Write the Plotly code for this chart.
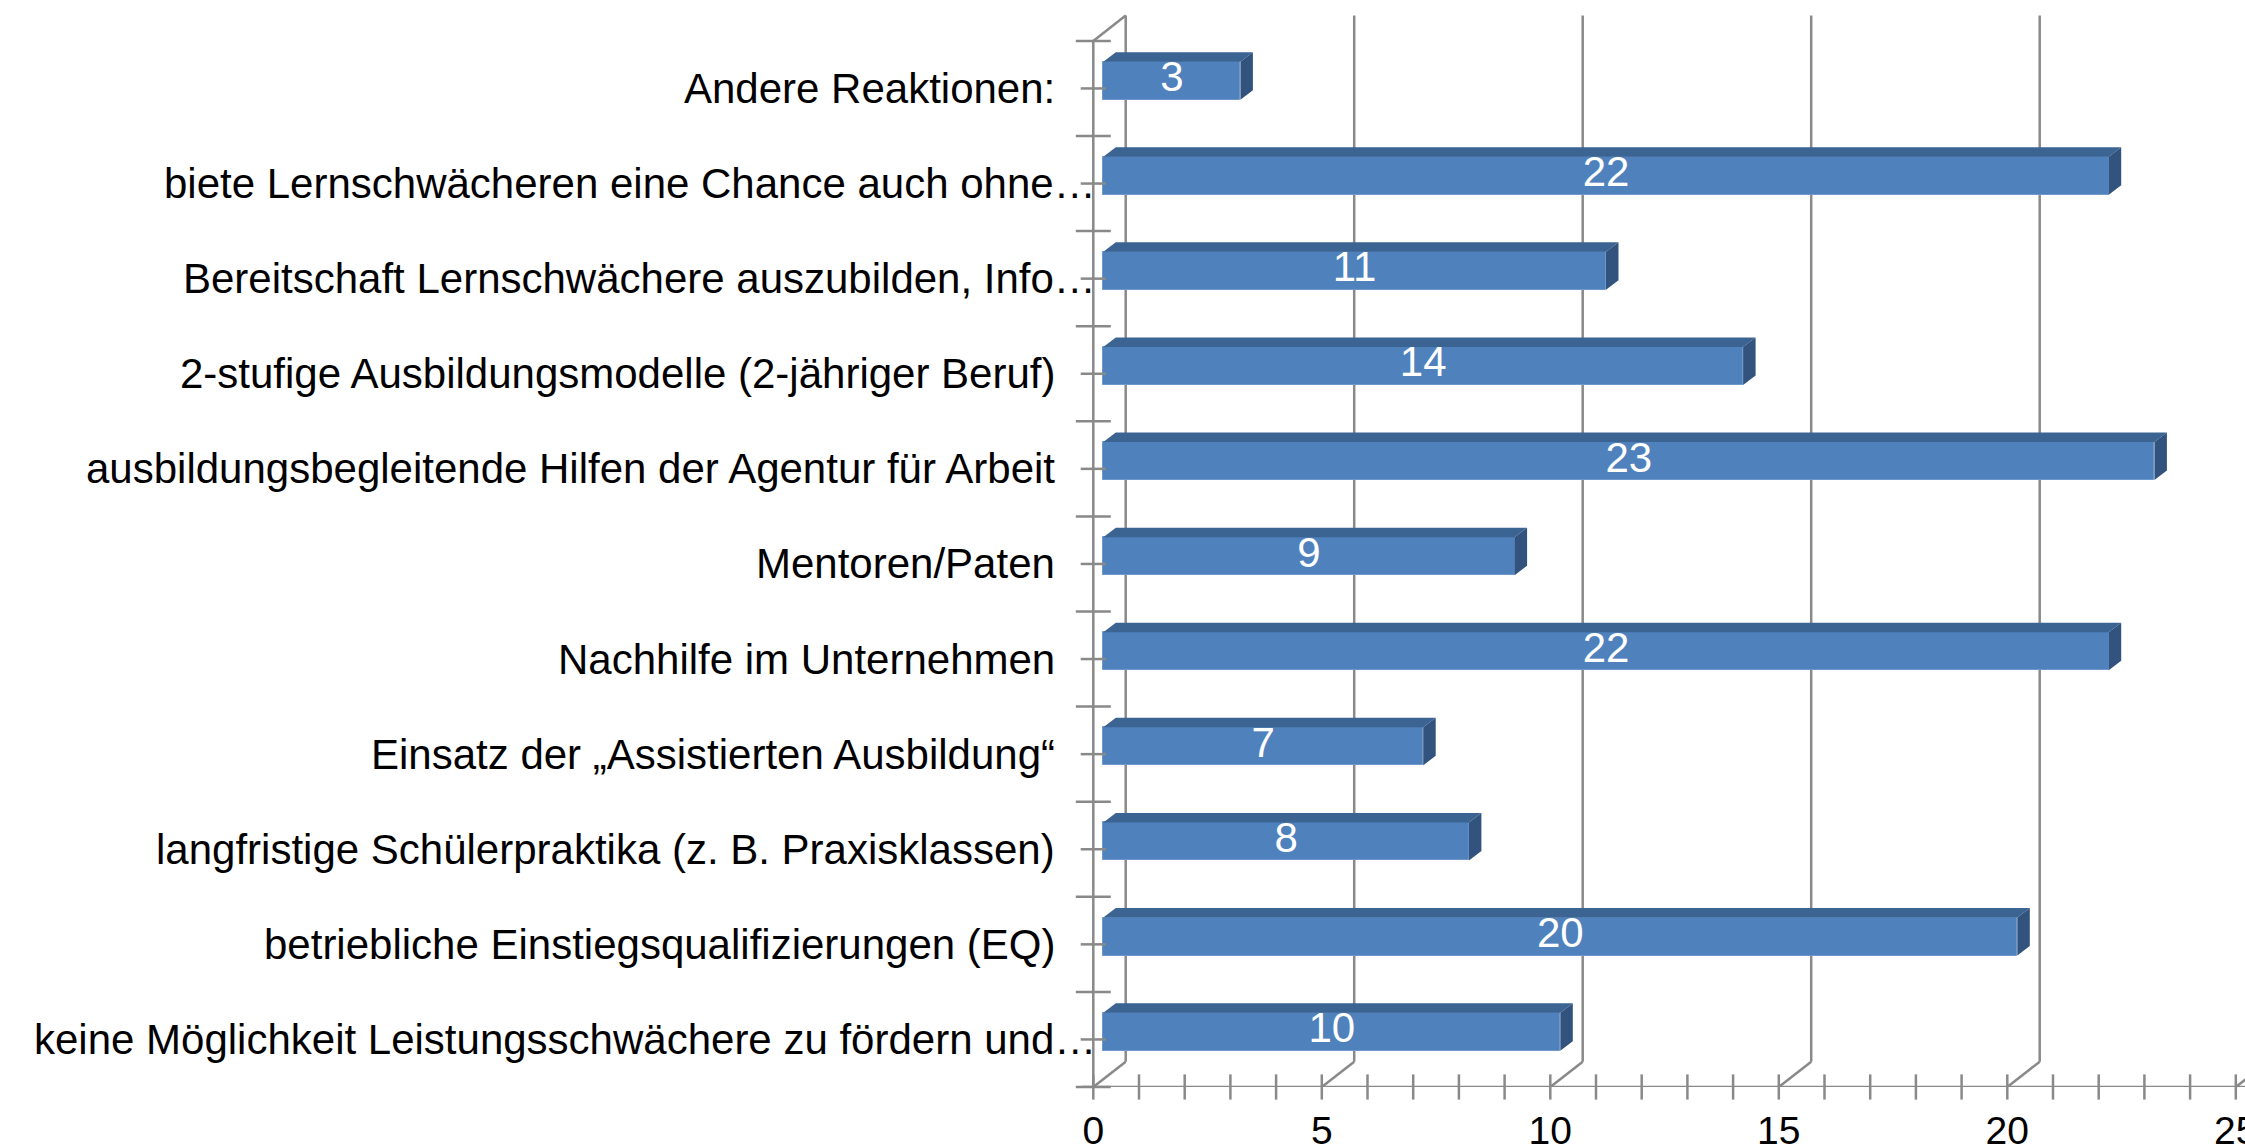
import plotly.graph_objects as go

# ---------------- data ----------------
categories = [
    "keine Möglichkeit Leistungsschwächere zu fördern und…",
    "betriebliche Einstiegsqualifizierungen (EQ)",
    "langfristige Schülerpraktika (z. B. Praxisklassen)",
    "Einsatz der „Assistierten Ausbildung“",
    "Nachhilfe im Unternehmen",
    "Mentoren/Paten",
    "ausbildungsbegleitende Hilfen der Agentur für Arbeit",
    "2-stufige Ausbildungsmodelle (2-jähriger Beruf)",
    "Bereitschaft Lernschwächere auszubilden, Info…",
    "biete Lernschwächeren eine Chance auch ohne…",
    "Andere Reaktionen:",
]
values = [10, 20, 8, 7, 22, 9, 23, 14, 11, 22, 3]
x_tick_values = [0, 5, 10, 15, 20, 25]
x_tick_labels = ["0", "5", "10", "15", "20", "25"]

# ---------------- geometry / style ----------------
W, H = 2245, 1147
PX_X = 45.7          # pixels per value unit
X0_PX = 1093.3       # pixel of value 0 on front plane
SLOT_PX = 95.1       # pixels per category slot
B_MARGIN = 60
PLOT_H = H - B_MARGIN

n = len(categories)
xr = [-X0_PX / PX_X, (W - X0_PX) / PX_X]
yr = [-0.5, -0.5 + PLOT_H / SLOT_PX]

# depth of the 3D box (in data units)
DX = 32.4 / PX_X
DY = 25.3 / SLOT_PX
# bar placement inside depth
FX = 10.0 / PX_X
FY = 7.8 / SLOT_PX
BW = 38.0 / SLOT_PX       # front face height
BDX = 12.5 / PX_X         # bar depth
BDY = 9.5 / SLOT_PX

GRID = "#898989"
LW = 2.5
FRONT = "#4F81BD"
TOP = "#3C6492"
SIDE = "#32537D"
FONT = "Liberation Sans, Arial, sans-serif"

fig = go.Figure()

# ---- walls / gridlines as shapes below traces ----
shapes = []
def seg(x0, y0, x1, y1):
    shapes.append(dict(type="line", xref="x", yref="y", x0=x0, y0=y0, x1=x1, y1=y1,
                       line=dict(color=GRID, width=LW), layer="below"))

ybot, ytop = -0.5, n - 0.5
for v in range(0, 30, 5):
    seg(v + DX, ybot + DY, v + DX, ytop + DY)      # back wall vertical gridline
    seg(v, ybot, v + DX, ybot + DY)                # floor diagonal
seg(0, ytop, DX, ytop + DY)                        # top corner diagonal
seg(0, ybot, 0, ytop)                              # front category axis
seg(-0.25, ybot, 25.6, ybot)                       # front value axis

# ---- tick marks crossing the axes ----
fig.add_trace(go.Scatter(
    x=list(range(0, 26)), y=[ybot] * 26, mode="markers",
    marker=dict(symbol="line-ns", size=18, line=dict(color=GRID, width=LW)),
    cliponaxis=False, hoverinfo="skip", showlegend=False))
fig.add_trace(go.Scatter(
    x=[0] * (n + 1), y=[k - 0.5 for k in range(n + 1)], mode="markers",
    marker=dict(symbol="line-ew", size=25, line=dict(color=GRID, width=LW)),
    cliponaxis=False, hoverinfo="skip", showlegend=False))
fig.add_trace(go.Scatter(
    x=[0] * n, y=list(range(n)), mode="markers",
    marker=dict(symbol="line-ew", size=18, line=dict(color=GRID, width=LW)),
    cliponaxis=False, hoverinfo="skip", showlegend=False))

# ---- front faces of bars ----
ypos = [k + FY for k in range(n)]
fig.add_trace(go.Bar(
    x=values, y=ypos, base=[FX] * n, orientation="h", width=BW,
    marker=dict(color=FRONT, line=dict(color="#6E97CC", width=1)),
    hovertext=categories, hoverinfo="text+x", showlegend=False))

# ---- top and side faces ----
tx, ty, sx, sy = [], [], [], []
for k, v in enumerate(values):
    yc = ypos[k]
    yt, yb = yc + BW / 2, yc - BW / 2
    x1 = FX + v
    tx += [FX, x1, x1 + BDX, FX + BDX, FX, None]
    ty += [yt, yt, yt + BDY, yt + BDY, yt, None]
    sx += [x1, x1, x1 + BDX, x1 + BDX, x1, None]
    sy += [yb, yt, yt + BDY, yb + BDY, yb, None]
fig.add_trace(go.Scatter(x=tx, y=ty, mode="lines", fill="toself", fillcolor=TOP,
                         line=dict(width=0, color=TOP), hoverinfo="skip", showlegend=False))
fig.add_trace(go.Scatter(x=sx, y=sy, mode="lines", fill="toself", fillcolor=SIDE,
                         line=dict(width=0, color=SIDE), hoverinfo="skip", showlegend=False))

# ---- value labels ----
fig.add_trace(go.Scatter(
    x=[FX + v / 2 for v in values], y=ypos, mode="text",
    text=[str(v) for v in values], textposition="middle center",
    textfont=dict(family=FONT, size=42, color="white"),
    hoverinfo="skip", showlegend=False))

# ---- category labels ----
annotations = []
for k, c in enumerate(categories):
    right_px = 1098 if c.endswith("…") else 1057
    annotations.append(dict(
        x=right_px / W, xref="paper", y=k, yref="y", text=c, showarrow=False,
        xanchor="right", yanchor="middle",
        font=dict(family=FONT, size=42, color="black")))

fig.update_layout(
    width=W, height=H,
    margin=dict(l=0, r=0, t=0, b=B_MARGIN, pad=0, autoexpand=False),
    paper_bgcolor="white", plot_bgcolor="white",
    shapes=shapes, annotations=annotations,
    showlegend=False,
    xaxis=dict(range=xr, tickvals=x_tick_values, ticktext=x_tick_labels,
               showgrid=False, zeroline=False, showline=False, ticks="",
               tickfont=dict(family=FONT, size=39, color="black"),
               ticklabelstandoff=17, ticklabeloverflow="allow",
               automargin=False, fixedrange=True),
    yaxis=dict(range=yr, showgrid=False, zeroline=False, showline=False,
               showticklabels=False, ticks="", automargin=False, fixedrange=True),
    bargap=0,
)

fig.write_html(
    "out.html",
    config={"displayModeBar": False},
    post_script="document.body.style.margin='0';document.body.style.padding='0';"
                "document.body.style.overflow='hidden';",
)
